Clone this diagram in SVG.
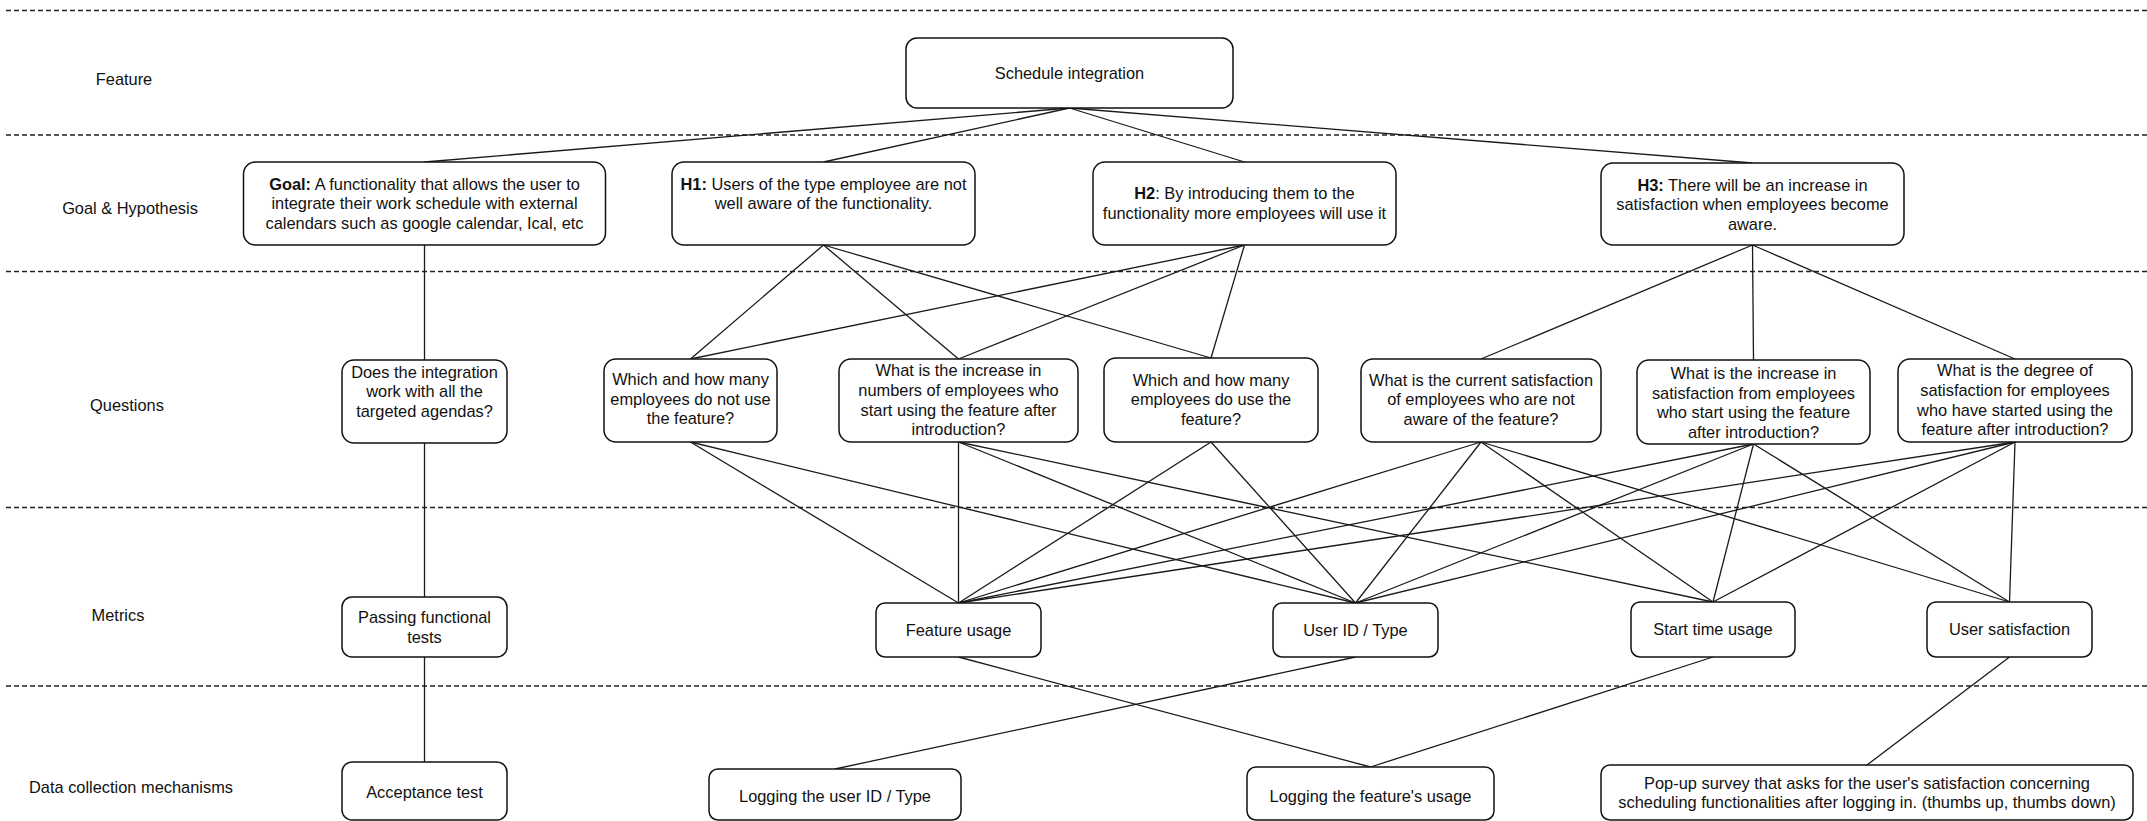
<svg xmlns="http://www.w3.org/2000/svg" width="2147" height="821" viewBox="0 0 2147 821">
<style>
  .bg{fill:#ffffff}
  .sep{stroke:#222;stroke-width:1.4;stroke-dasharray:5 3;fill:none}
  .box{fill:#ffffff;stroke:#111;stroke-width:1.5}
  .lbl{font-family:"Liberation Sans",Arial,Helvetica,sans-serif;font-size:16.4px;fill:#111;text-anchor:middle}
  .b{font-weight:bold}
  .edge{stroke:#1a1a1a;stroke-width:1.3;fill:none}
</style>
<rect class="bg" x="0" y="0" width="2147" height="821"/>
<g id="separators">
  <line class="sep" x1="6" y1="10.5" x2="2147" y2="10.5"/>
  <line class="sep" x1="6" y1="135" x2="2147" y2="135"/>
  <line class="sep" x1="6" y1="271.5" x2="2147" y2="271.5"/>
  <line class="sep" x1="6" y1="507.5" x2="2147" y2="507.5"/>
  <line class="sep" x1="6" y1="686" x2="2147" y2="686"/>
</g>
<g id="row-labels">
  <text class="lbl" x="124" y="84.5">Feature</text>
  <text class="lbl" x="130" y="213.5">Goal &amp; Hypothesis</text>
  <text class="lbl" x="127" y="410.5">Questions</text>
  <text class="lbl" x="118" y="620.5">Metrics</text>
  <text class="lbl" x="131" y="792.5">Data collection mechanisms</text>
</g>
<g id="connectors">
  <line class="edge" x1="1069.5" y1="108" x2="424.5" y2="162"/>
  <line class="edge" x1="1069.5" y1="108" x2="823.5" y2="162"/>
  <line class="edge" x1="1069.5" y1="108" x2="1244.5" y2="162"/>
  <line class="edge" x1="1069.5" y1="108" x2="1752.5" y2="163"/>
  <line class="edge" x1="424.5" y1="245" x2="424.5" y2="360"/>
  <line class="edge" x1="424.5" y1="443" x2="424.5" y2="597"/>
  <line class="edge" x1="424.5" y1="657" x2="424.5" y2="762"/>
  <line class="edge" x1="823.5" y1="245" x2="690.5" y2="359"/>
  <line class="edge" x1="823.5" y1="245" x2="958.5" y2="359"/>
  <line class="edge" x1="823.5" y1="245" x2="1211" y2="358"/>
  <line class="edge" x1="1244.5" y1="245" x2="690.5" y2="359"/>
  <line class="edge" x1="1244.5" y1="245" x2="958.5" y2="359"/>
  <line class="edge" x1="1244.5" y1="245" x2="1211" y2="358"/>
  <line class="edge" x1="1752.5" y1="245" x2="1481" y2="359"/>
  <line class="edge" x1="1752.5" y1="245" x2="1753.5" y2="360"/>
  <line class="edge" x1="1752.5" y1="245" x2="2015" y2="359"/>
  <line class="edge" x1="690.5" y1="442" x2="958.5" y2="603"/>
  <line class="edge" x1="690.5" y1="442" x2="1355.5" y2="603"/>
  <line class="edge" x1="958.5" y1="442" x2="958.5" y2="603"/>
  <line class="edge" x1="958.5" y1="442" x2="1355.5" y2="603"/>
  <line class="edge" x1="958.5" y1="442" x2="1713" y2="602"/>
  <line class="edge" x1="1211" y1="442" x2="958.5" y2="603"/>
  <line class="edge" x1="1211" y1="442" x2="1355.5" y2="603"/>
  <line class="edge" x1="1481" y1="442" x2="958.5" y2="603"/>
  <line class="edge" x1="1481" y1="442" x2="1355.5" y2="603"/>
  <line class="edge" x1="1481" y1="442" x2="1713" y2="602"/>
  <line class="edge" x1="1481" y1="442" x2="2009.5" y2="602"/>
  <line class="edge" x1="1753.5" y1="444" x2="958.5" y2="603"/>
  <line class="edge" x1="1753.5" y1="444" x2="1355.5" y2="603"/>
  <line class="edge" x1="1753.5" y1="444" x2="1713" y2="602"/>
  <line class="edge" x1="1753.5" y1="444" x2="2009.5" y2="602"/>
  <line class="edge" x1="2015" y1="442" x2="958.5" y2="603"/>
  <line class="edge" x1="2015" y1="442" x2="1355.5" y2="603"/>
  <line class="edge" x1="2015" y1="442" x2="1713" y2="602"/>
  <line class="edge" x1="2015" y1="442" x2="2009.5" y2="602"/>
  <line class="edge" x1="958.5" y1="657" x2="1370.5" y2="767"/>
  <line class="edge" x1="1355.5" y1="657" x2="835" y2="769"/>
  <line class="edge" x1="1713" y1="657" x2="1370.5" y2="767"/>
  <line class="edge" x1="2009.5" y1="657" x2="1867" y2="765"/>
</g>
<g id="n-feature">
  <rect class="box" x="906" y="38" width="327" height="70" rx="11"/>
  <text class="lbl" x="1069.5" y="78.7">Schedule integration</text>
</g>
<g id="n-goal">
  <rect class="box" x="243.5" y="162" width="362" height="83" rx="12"/>
  <text class="lbl" x="424.5" y="189.5"><tspan class="b">Goal:</tspan> A functionality that allows the user to</text>
  <text class="lbl" x="424.5" y="209.2">integrate their work schedule with external</text>
  <text class="lbl" x="424.5" y="228.9">calendars such as google calendar, Ical, etc</text>
</g>
<g id="n-h1">
  <rect class="box" x="672" y="162" width="303" height="83" rx="12"/>
  <text class="lbl" x="823.5" y="189.5"><tspan class="b">H1:</tspan> Users of the type employee are not</text>
  <text class="lbl" x="823.5" y="208.7">well aware of the functionality.</text>
</g>
<g id="n-h2">
  <rect class="box" x="1093" y="162" width="303" height="83" rx="12"/>
  <text class="lbl" x="1244.5" y="199.3"><tspan class="b">H2</tspan>: By introducing them to the</text>
  <text class="lbl" x="1244.5" y="219">functionality more employees will use it</text>
</g>
<g id="n-h3">
  <rect class="box" x="1601" y="163" width="303" height="82" rx="12"/>
  <text class="lbl" x="1752.5" y="190.5"><tspan class="b">H3:</tspan> There will be an increase in</text>
  <text class="lbl" x="1752.5" y="210.2">satisfaction when employees become</text>
  <text class="lbl" x="1752.5" y="229.9">aware.</text>
</g>
<g id="n-q0">
  <rect class="box" x="342" y="360" width="165" height="83" rx="12"/>
  <text class="lbl" x="424.5" y="377.7">Does the integration</text>
  <text class="lbl" x="424.5" y="397.4">work with all the</text>
  <text class="lbl" x="424.5" y="417.1">targeted agendas?</text>
</g>
<g id="n-q1">
  <rect class="box" x="604" y="359" width="173" height="83" rx="12"/>
  <text class="lbl" x="690.5" y="384.8">Which and how many</text>
  <text class="lbl" x="690.5" y="404.5">employees do not use</text>
  <text class="lbl" x="690.5" y="424.2">the feature?</text>
</g>
<g id="n-q2">
  <rect class="box" x="839" y="359" width="239" height="83" rx="12"/>
  <text class="lbl" x="958.5" y="376.2">What is the increase in</text>
  <text class="lbl" x="958.5" y="395.9">numbers of employees who</text>
  <text class="lbl" x="958.5" y="415.6">start using the feature after</text>
  <text class="lbl" x="958.5" y="435.3">introduction?</text>
</g>
<g id="n-q3">
  <rect class="box" x="1104" y="358" width="214" height="84" rx="12"/>
  <text class="lbl" x="1211" y="385.5">Which and how many</text>
  <text class="lbl" x="1211" y="405.2">employees do use the</text>
  <text class="lbl" x="1211" y="424.9">feature?</text>
</g>
<g id="n-q4">
  <rect class="box" x="1361" y="359" width="240" height="83" rx="12"/>
  <text class="lbl" x="1481" y="385.5">What is the current satisfaction</text>
  <text class="lbl" x="1481" y="405.2">of employees who are not</text>
  <text class="lbl" x="1481" y="424.9">aware of the feature?</text>
</g>
<g id="n-q5">
  <rect class="box" x="1637" y="360" width="233" height="84" rx="12"/>
  <text class="lbl" x="1753.5" y="378.8">What is the increase in</text>
  <text class="lbl" x="1753.5" y="398.5">satisfaction from employees</text>
  <text class="lbl" x="1753.5" y="418.2">who start using the feature</text>
  <text class="lbl" x="1753.5" y="437.9">after introduction?</text>
</g>
<g id="n-q6">
  <rect class="box" x="1898" y="359" width="234" height="83" rx="12"/>
  <text class="lbl" x="2015" y="376.2">What is the degree of</text>
  <text class="lbl" x="2015" y="395.9">satisfaction for employees</text>
  <text class="lbl" x="2015" y="415.6">who have started using the</text>
  <text class="lbl" x="2015" y="435.3">feature after introduction?</text>
</g>
<g id="n-m-tests">
  <rect class="box" x="342" y="597" width="165" height="60" rx="10"/>
  <text class="lbl" x="424.5" y="623">Passing functional</text>
  <text class="lbl" x="424.5" y="642.7">tests</text>
</g>
<g id="n-m-feature-usage">
  <rect class="box" x="876" y="603" width="165" height="54" rx="9"/>
  <text class="lbl" x="958.5" y="636.2">Feature usage</text>
</g>
<g id="n-m-user-id">
  <rect class="box" x="1273" y="603" width="165" height="54" rx="9"/>
  <text class="lbl" x="1355.5" y="636.2">User ID / Type</text>
</g>
<g id="n-m-start-time">
  <rect class="box" x="1631" y="602" width="164" height="55" rx="9"/>
  <text class="lbl" x="1713" y="635.2">Start time usage</text>
</g>
<g id="n-m-satisfaction">
  <rect class="box" x="1927" y="602" width="165" height="55" rx="9"/>
  <text class="lbl" x="2009.5" y="635.2">User satisfaction</text>
</g>
<g id="n-d-acceptance">
  <rect class="box" x="342" y="762" width="165" height="58" rx="10"/>
  <text class="lbl" x="424.5" y="797.7">Acceptance test</text>
</g>
<g id="n-d-log-user">
  <rect class="box" x="709" y="769" width="252" height="51" rx="9"/>
  <text class="lbl" x="835" y="801.7">Logging the user ID / Type</text>
</g>
<g id="n-d-log-feature">
  <rect class="box" x="1247" y="767" width="247" height="53" rx="9"/>
  <text class="lbl" x="1370.5" y="801.7">Logging the feature's usage</text>
</g>
<g id="n-d-popup">
  <rect class="box" x="1601" y="765" width="532" height="55" rx="9"/>
  <text class="lbl" x="1867" y="788.7">Pop-up survey that asks for the user's satisfaction concerning</text>
  <text class="lbl" x="1867" y="808.4">scheduling functionalities after logging in. (thumbs up, thumbs down)</text>
</g>
</svg>
